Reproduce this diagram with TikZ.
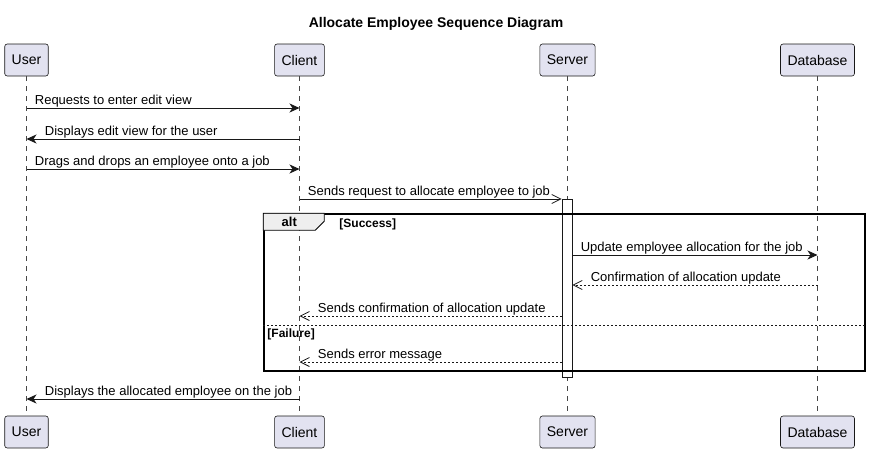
\documentclass[tikz,border=0pt]{standalone}
\usepackage{fontspec}
\setmainfont{Liberation Sans}
\usetikzlibrary{arrows.meta,positioning,calc}

\definecolor{partfill}{HTML}{E2E2F0}
\definecolor{partline}{HTML}{181818}
\definecolor{tabfill}{HTML}{EEEEEE}

\tikzset{
    part/.style={draw=partline, fill=partfill, rounded corners=2.5pt, minimum height=32pt,
        inner xsep=7pt, line width=0.6pt, font=\fontsize{14}{16}\selectfont},
    life/.style={draw=partline!80, dash pattern=on 5pt off 5pt, line width=0.5pt},
    msg/.style={draw=partline, line width=0.8pt, -{Stealth[length=10pt,width=9pt,inset=3pt]}},
    open/.style={draw=partline, line width=0.8pt, -{Straight Barb[length=9pt,width=9pt]}},
    reply/.style={open, dash pattern=on 2pt off 2pt},
    lbl/.style={font=\fontsize{13}{15}\selectfont, inner sep=0pt, anchor=base west, yshift=4pt},
    guard/.style={font=\bfseries\fontsize{12}{14}\selectfont, inner sep=0pt, anchor=base west},
    activation/.style={draw=partline, fill=white, line width=0.8pt, minimum width=10pt,
        minimum height=178pt, inner sep=0pt},
    frame/.style={draw=black, line width=1.5pt, minimum width=601pt, minimum height=157pt, inner sep=0pt}
}

\begin{document}
\begin{tikzpicture}[x=1pt, y=-1pt]
    \useasboundingbox (0,0) rectangle (871,453);

    % Title
    \node (title) [font=\bfseries\fontsize{14}{16}\selectfont] at (436,24) {Allocate Employee Sequence Diagram};

    % Participants {top, bottom}
    \node [part] (user)     at (26.5,60)  {User};
    \node [part] (client)   at (299.5,60) {Client};
    \node [part] (server)   at (567.5,60) {Server};
    \node [part] (db)       at (817.5,60) {Database};
    \node [part] (userB)    at (26.5,432)  {User};
    \node [part] (clientB)  at (299.5,432) {Client};
    \node [part] (serverB)  at (567.5,432) {Server};
    \node [part] (dbB)      at (817.5,432) {Database};

    % Lifelines
    \draw [life] (user)   -- (userB);
    \draw [life] (client) -- (clientB);
    \draw [life] (server) -- (serverB);
    \draw [life] (db)     -- (dbB);

    % Message rows
    \coordinate (m1) at (0,108);
    \coordinate (m2) at (0,139);
    \coordinate (m3) at (0,169);
    \coordinate (m4) at (0,199);
    \coordinate (m5) at (0,255);
    \coordinate (m6) at (0,285);
    \coordinate (m7) at (0,316);
    \coordinate (s1) at (0,325);
    \coordinate (m8) at (0,362);
    \coordinate (m9) at (0,399);

    % Activation and alt frame
    \node [activation] (act) at (567,288) {};
    \node [frame] (alt) at (564.5,292.5) {};
    \draw [fill=tabfill, line width=0.8pt] (alt.north west) -- ++(61,0) -- ++(0,8) -- ++(-9,9) -- ++(-52,0) -- cycle;
    \node (altlbl) [font=\bfseries\fontsize{13}{15}\selectfont, inner sep=0pt] at ($(alt.north west)+(26,9)$) {alt};
    \node (succ) [guard] at ($(alt.north west)+(76,14)$) {[Success]};
    \draw [draw=partline, line width=0.6pt, dash pattern=on 2pt off 2pt] (alt.west |- s1) -- (alt.east |- s1);
    \node (fail) [guard] at ($(alt.west |- s1)+(4,12)$) {[Failure]};

    % Paths
    \draw [msg]   (user |- m1)    -- (client |- m1)   node [lbl, at start, xshift=8pt]  {Requests to enter edit view};
    \draw [msg]   (client |- m2)  -- (user |- m2)     node [lbl, at end, xshift=18pt]   {Displays edit view for the user};
    \draw [msg]   (user |- m3)    -- (client |- m3)   node [lbl, at start, xshift=8pt]  {Drags and drops an employee onto a job};
    \draw [open]  (client |- m4)  -- (act.west |- m4) node [lbl, at start, xshift=8pt]  {Sends request to allocate employee to job};
    \draw [msg]   (act.east |- m5) -- (db |- m5)      node [lbl, at start, xshift=8pt]  {Update employee allocation for the job};
    \draw [reply] (db |- m6)      -- (act.east |- m6) node [lbl, at end, xshift=18pt]   {Confirmation of allocation update};
    \draw [reply] (act.west |- m7) -- (client |- m7)  node [lbl, at end, xshift=18pt]   {Sends confirmation of allocation update};
    \draw [reply] (act.west |- m8) -- (client |- m8)  node [lbl, at end, xshift=18pt]   {Sends error message};
    \draw [msg]   (client |- m9)  -- (user |- m9)     node [lbl, at end, xshift=18pt]   {Displays the allocated employee on the job};

\end{tikzpicture}
\end{document}
